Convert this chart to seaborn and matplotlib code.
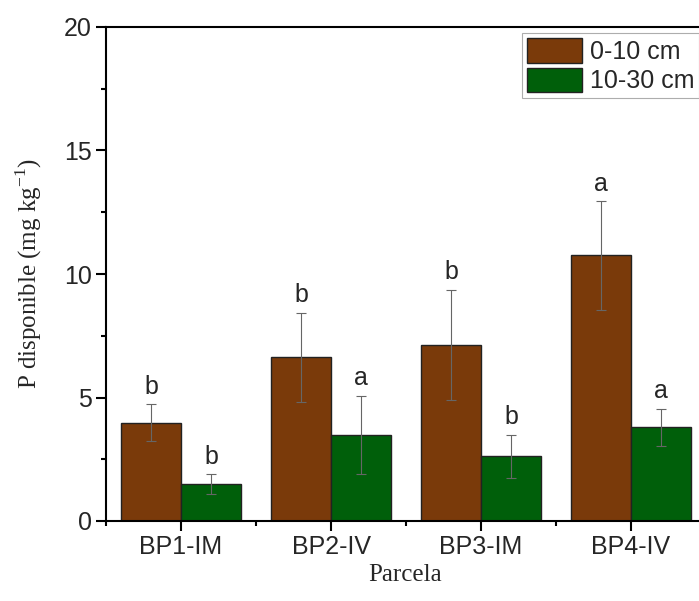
import numpy as np
import pandas as pd
import matplotlib
matplotlib.use('Agg')
import matplotlib.pyplot as plt
import seaborn as sns
from matplotlib.ticker import MultipleLocator

# data
parcelas = ['BP1-IM', 'BP2-IV', 'BP3-IM', 'BP4-IV']
depths = ['0-10 cm', '10-30 cm']
p_0_10 = [3.98, 6.63, 7.13, 10.75]
p_10_30 = [1.49, 3.48, 2.62, 3.79]
err_0_10 = [0.74, 1.80, 2.22, 2.20]
err_10_30 = [0.40, 1.58, 0.86, 0.75]
letters_0_10 = ['b', 'b', 'b', 'a']
letters_10_30 = ['b', 'a', 'b', 'a']

colors = ['#7A3A0A', '#005F0A']

df = pd.DataFrame({
    'Parcela': parcelas * 2,
    'Prof': [depths[0]] * 4 + [depths[1]] * 4,
    'P': p_0_10 + p_10_30,
    'err': err_0_10 + err_10_30,
    'letra': letters_0_10 + letters_10_30,
})

sns.set_style('ticks')
plt.rcParams['font.family'] = ['Liberation Sans', 'DejaVu Sans']

fig = plt.figure(figsize=(6.99, 6.01), dpi=100)
ax = fig.add_axes([106 / 699, 1 - 521 / 601, 600 / 699, (521 - 27) / 601])

sns.barplot(data=df, x='Parcela', y='P', hue='Prof', order=parcelas,
            hue_order=depths, palette=colors, errorbar=None, width=0.8,
            gap=0, edgecolor='#222222', linewidth=1.0, saturation=1, ax=ax)

# error bars and significance letters on top of each bar
bar_groups = list(ax.containers)
for i, cont in enumerate(bar_groups):
    sub = df[df['Prof'] == depths[i]].set_index('Parcela').loc[parcelas]
    for bar, (_, row) in zip(cont, sub.iterrows()):
        xc = bar.get_x() + bar.get_width() / 2
        ax.errorbar(xc, row['P'], yerr=row['err'], fmt='none',
                    ecolor='#666666', elinewidth=0.8, capsize=3.4,
                    capthick=0.8, zorder=3)
        ax.annotate(row['letra'], (xc, row['P'] + row['err']),
                    xytext=(0, 4), textcoords='offset points',
                    ha='center', va='bottom', fontsize=18)

ax.set_ylim(0, 20)
ax.set_xlim(-0.5, 3.5)
ax.yaxis.set_major_locator(MultipleLocator(5))
ax.yaxis.set_minor_locator(MultipleLocator(2.5))
ax.xaxis.set_minor_locator(MultipleLocator(1, offset=0.5))
ax.tick_params(axis='both', which='major', length=7, width=1.5,
               labelsize=18, direction='out', color='black', pad=3)
ax.tick_params(axis='both', which='minor', length=3.5, width=1.5,
               direction='out', color='black')

for side in ['left', 'bottom', 'top', 'right']:
    ax.spines[side].set_visible(True)
    ax.spines[side].set_linewidth(1.5)
    ax.spines[side].set_color('black')

ax.set_xlabel('Parcela', family='Liberation Serif', fontsize=18)
ax.set_ylabel('P disponible (mg kg$^{\\mathregular{-1}}$)',
              family='Liberation Serif', fontsize=18)
ax.xaxis.set_label_coords(0.498, -0.087)
ax.yaxis.set_label_coords(-0.103, 0.5)

ax.legend(loc='upper right', bbox_to_anchor=((699 - 106) / 600, 0.988),
          fontsize=18, frameon=True, fancybox=False, edgecolor='#999999',
          handlelength=2.2, handleheight=1.15, labelspacing=0.15,
          handletextpad=0.3, borderpad=0.2, borderaxespad=0.0)
ax.get_legend().get_frame().set_linewidth(0.8)
for h in ax.get_legend().legend_handles:
    h.set_edgecolor('#222222')

fig.savefig('out.png', dpi=100)
